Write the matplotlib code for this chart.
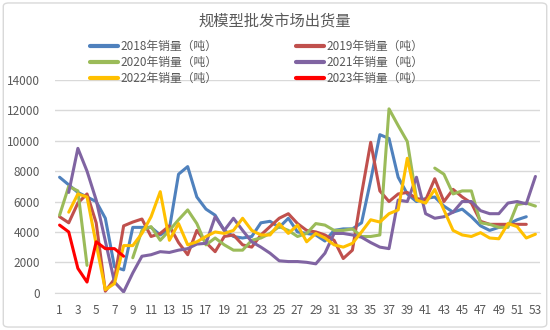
import numpy as np
import matplotlib
matplotlib.use("Agg")
import matplotlib.pyplot as plt
from matplotlib.patches import FancyBboxPatch

plt.rcParams['font.family'] = ['Noto Sans CJK SC', 'DejaVu Sans']

nan = np.nan
weeks = list(range(1, 54))

sales_2018 = [7600, 7100, 6600, 6300, 6000, 4900, 1700, 1500, 4300, 4300,
              4300, 3800, 4200, 7800, 8300, 6300, 5500, 5100, 4100, 3700,
              3600, 3700, 4600, 4700, 4300, 4900, 4000, 3900, 3800, 3400,
              4100, 4200, 4200, 4600, 7400, 10400, 10150, 7600, 6500, 6000,
              6200, 6300, 5700, 5300, 5500, 5000, 4400, 4100, 4300, 4500,
              4800, 5000, nan]
sales_2019 = [5000, 4600, 5900, 6500, 4600, 100, 900, 4400, 4650, 4850,
              3700, 3900, 4400, 3300, 2500, 4100, 3300, 2700, 3700, 3800,
              3150, 3000, 3800, 4350, 4900, 5200, 4550, 4100, 4000, 3800,
              3450, 2250, 2800, 6500, 9900, 6700, 6000, 6500, 6600, 6200,
              6100, 7500, 6000, 6800, 6300, 5900, 4700, 4500, 4500, 4500,
              4500, 4500, nan]
sales_2020 = [5100, 7000, 6700, 1800, nan, nan, nan, nan, 2300, 4100,
              4350, 3450, 4100, 4800, 5450, 4550, 3150, 3600, 3150, 2800,
              2800, 3450, 3600, 3900, 4350, 4100, 3700, 3900, 4550, 4450,
              4100, 4100, 4200, 3700, 3700, 3800, 12100, 11000, 9950, 6200,
              nan, 8200, 7800, 6500, 6700, 6700, 4600, 4500, 4300, 4300,
              5800, 5900, 5700]
sales_2021 = [nan, 6600, 9500, 8000, 6100, 3400, 700, 50, 1300, 2400,
              2500, 2700, 2650, 2800, 2900, 3200, 3250, 5000, 4100, 4900,
              4100, 3350, 3000, 2600, 2100, 2050, 2050, 2000, 1900, 2600,
              3900, 3900, 3800, 3650, 3300, 3000, 2900, 6100, 6000, 7600,
              5200, 4900, 5000, 5300, 6000, 6000, 5400, 5200, 5200, 5900,
              6000, 5850, 7650]
sales_2022 = [nan, 5300, 6500, 6300, 3200, 200, 600, 3100, 3100, 3900,
              5000, 6650, 3450, 4550, 3150, 3350, 3700, 4000, 3900, 4100,
              4900, 4100, 3800, 3800, 4550, 3900, 4450, 3350, 3900, 3600,
              3150, 3000, 3250, 4000, 4800, 4650, 5200, 5450, 8850, 6100,
              5900, 6800, 5450, 4100, 3800, 3700, 3950, 3600, 3550, 4550,
              4350, 3600, 3850]
sales_2023 = [4450, 4000, 1600, 700, 3350, 2900, 2900, 2400] + [nan] * 45

series = [
    ("2018年销量（吨）", sales_2018, "#4F81BD"),
    ("2019年销量（吨）", sales_2019, "#C0504D"),
    ("2020年销量（吨）", sales_2020, "#9BBB59"),
    ("2021年销量（吨）", sales_2021, "#8064A2"),
    ("2022年销量（吨）", sales_2022, "#FFC000"),
    ("2023年销量（吨）", sales_2023, "#FF0000"),
]

y_ticks = list(range(0, 14001, 2000))
x_ticks = list(range(1, 54, 2))

fig = plt.figure(figsize=(5.5, 3.3), dpi=100)
fig.patch.set_facecolor("white")

# light rounded frame around the whole chart
frame = FancyBboxPatch((0.006, 0.009), 0.988, 0.982,
                       boxstyle="round,pad=0,rounding_size=0.01",
                       transform=fig.transFigure, facecolor="none",
                       edgecolor="#D9D9D9", linewidth=1.0)
fig.patches.append(frame)

ax = fig.add_axes([55 / 550, 1 - 292.7 / 330, 485 / 550, (292.7 - 80) / 330])

handles = {}
for label, vals, color in series:
    line, = ax.plot(weeks, vals, color=color, linewidth=2.2, label=label,
                    solid_joinstyle="round", solid_capstyle="round")
    handles[label] = line

ax.set_xlim(0.5, 53.5)
ax.set_ylim(0, 14000)
ax.set_yticks(y_ticks)
ax.set_yticklabels([str(v) for v in y_ticks])
ax.set_xticks(x_ticks)
ax.set_xticklabels([str(v) for v in x_ticks])
ax.grid(axis="y", color="#D9D9D9", linewidth=1.0)
ax.set_axisbelow(True)
for side in ("top", "right", "left"):
    ax.spines[side].set_visible(False)
ax.spines["bottom"].set_color("#D9D9D9")
ax.tick_params(axis="both", length=0, labelsize=8.5, colors="#595959")
ax.tick_params(axis="y", pad=11)
ax.tick_params(axis="x", pad=8)

fig.text(0.5, 1 - 21 / 330, "规模型批发市场出货量", ha="center", va="center",
         fontsize=11, color="#595959")

order = ["2018年销量（吨）", "2020年销量（吨）", "2022年销量（吨）",
         "2019年销量（吨）", "2021年销量（吨）", "2023年销量（吨）"]
leg = fig.legend([handles[k] for k in order], order, ncol=2,
                 loc="center left", bbox_to_anchor=(90 / 550, 1 - 62.5 / 330),
                 frameon=False, fontsize=8.5, handlelength=2.4,
                 handletextpad=0.2, columnspacing=6.6, labelspacing=0.28,
                 borderpad=0, borderaxespad=0)
for t in leg.get_texts():
    t.set_color("#595959")
for h in leg.legend_handles:
    h.set_linewidth(3.0)

fig.savefig("out.png", dpi=100, facecolor="white")
